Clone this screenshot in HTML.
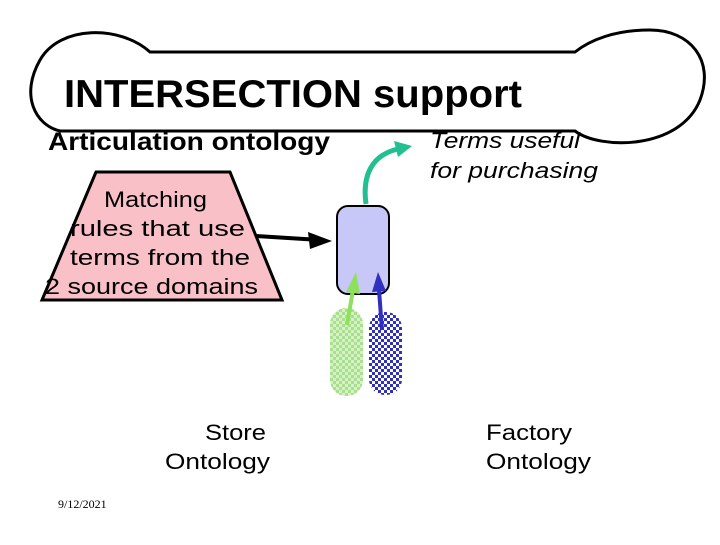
<!DOCTYPE html>
<html><head><style>
body{margin:0;background:#fff;width:720px;height:540px;overflow:hidden}
text{font-family:"Liberation Sans",Arial,sans-serif}
</style></head><body>
<svg width="720" height="540" viewBox="0 0 720 540">
<defs>
<pattern id="g" width="6" height="6" patternUnits="userSpaceOnUse"><rect width="6" height="6" fill="#d8f0c8"/><rect width="3" height="3" fill="#a8e090"/><rect x="3" y="3" width="3" height="3" fill="#a8e090"/></pattern>
<pattern id="b" width="6" height="6" patternUnits="userSpaceOnUse"><rect width="6" height="6" fill="#fff"/><rect width="3" height="3" fill="#3030c0"/><rect x="3" y="3" width="3" height="3" fill="#3030c0"/></pattern>
</defs>
<path d="M150,52 C120,25 60,25 40,60 C20,95 35,125 60,131 L575,131 C600,150 680,150 700,100 C715,60 690,30 650,30 C615,30 590,40 575,52 Z" fill="#fff" stroke="#000" stroke-width="3"/>
<text x="64" y="107" font-size="39" font-weight="bold" textLength="458" lengthAdjust="spacingAndGlyphs">INTERSECTION support</text>
<text x="48" y="150" font-size="25" font-weight="bold" textLength="282" lengthAdjust="spacingAndGlyphs">Articulation ontology</text>
<text x="430" y="148" font-size="22" font-style="italic" textLength="150" lengthAdjust="spacingAndGlyphs">Terms useful</text>
<text x="430" y="178" font-size="22" font-style="italic" textLength="168" lengthAdjust="spacingAndGlyphs">for purchasing</text>
<polygon points="96,172 230,172 282,300 42,300" fill="#f9c0c8" stroke="#000" stroke-width="3"/>
<g font-size="22">
<text x="104" y="207" textLength="103" lengthAdjust="spacingAndGlyphs">Matching</text>
<text x="70" y="236" textLength="175" lengthAdjust="spacingAndGlyphs">rules  that use</text>
<text x="70" y="265" textLength="180" lengthAdjust="spacingAndGlyphs">terms  from  the</text>
<text x="45" y="294" textLength="213" lengthAdjust="spacingAndGlyphs">2 source domains</text>
</g>
<line x1="256" y1="236" x2="320" y2="240" stroke="#000" stroke-width="4"/>
<polygon points="332,241 308,232 310,249" fill="#000"/>
<rect x="337" y="206" width="52" height="88" rx="11" fill="#c8c8f8" stroke="#000" stroke-width="2"/>
<path d="M366,204 C362,175 372,155 398,149" fill="none" stroke="#20c090" stroke-width="5"/>
<polygon points="412,146 394,141 398,157" fill="#20c090"/>
<rect x="330" y="308" width="33" height="88" rx="16" fill="url(#g)"/>
<rect x="369" y="312" width="33" height="83" rx="16" fill="url(#b)"/>
<line x1="347" y1="325" x2="353" y2="290" stroke="#90e060" stroke-width="4"/>
<polygon points="356,272 346,292 360,294" fill="#90e060"/>
<line x1="382" y1="330" x2="379" y2="290" stroke="#3030c0" stroke-width="4"/>
<polygon points="378,272 372,292 386,291" fill="#3030c0"/>
<g font-size="22">
<text x="205" y="440" textLength="61" lengthAdjust="spacingAndGlyphs">Store</text>
<text x="165" y="469" textLength="105" lengthAdjust="spacingAndGlyphs">Ontology</text>
<text x="486" y="440" textLength="86" lengthAdjust="spacingAndGlyphs">Factory</text>
<text x="486" y="469" textLength="105" lengthAdjust="spacingAndGlyphs">Ontology</text>
</g>
<text x="58" y="508" font-size="12" style="font-family:'Liberation Serif',serif">9/12/2021</text>
</svg>
</body></html>
